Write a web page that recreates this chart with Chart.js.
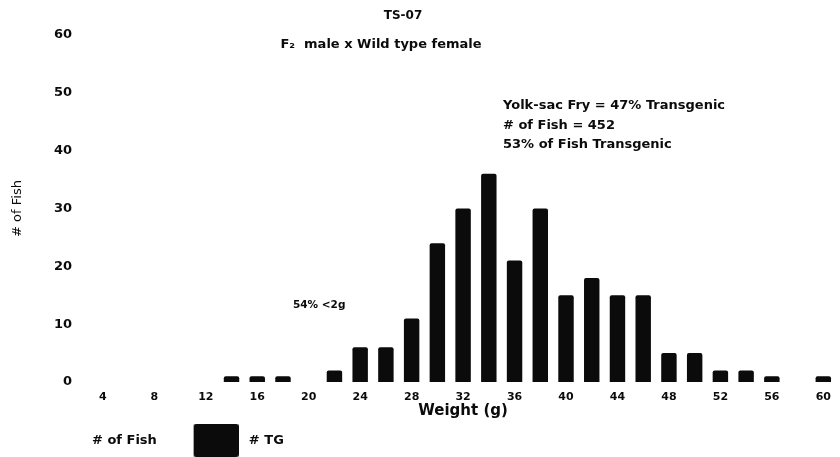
<!DOCTYPE html>
<html>
<head>
<meta charset="utf-8">
<style>
  html, body { margin: 0; padding: 0; background: #fff; }
  #wrap { width: 840px; height: 457px; }
</style>
<script src="https://cdn.jsdelivr.net/npm/chart.js@4/dist/chart.umd.min.js"></script>
</head>
<body>
<div id="wrap"><canvas id="c" width="840" height="457"></canvas></div>
<script>
// Weight classes (g), one bar slot each
const weights = [4, 6, 8, 10, 12, 14, 16, 18, 20, 22, 24, 26, 28, 30, 32, 34, 36, 38, 40, 42, 44, 46, 48, 50, 52, 54, 56, 58, 60];
// Transgenic fish counted in each weight class
const tgCounts = [0, 0, 0, 0, 0, 1, 1, 1, 0, 2, 6, 6, 11, 24, 30, 36, 21, 30, 15, 18, 15, 15, 5, 5, 2, 2, 1, 0, 1];
// All fish per class (series shown only in the legend)
const fishCounts = [];
// Every other weight class gets a tick label
const weightTickLabels = ['4', '8', '12', '16', '20', '24', '28', '32', '36', '40', '44', '48', '52', '56', '60'];
const yTicks = [0, 10, 20, 30, 40, 50, 60];

const titleText = 'TS-07';
const subtitleText = 'F\u2082  male x Wild type female';
const summaryLines = ['Yolk-sac Fry = 47% Transgenic', '# of Fish = 452', '53% of Fish Transgenic'];
const smallNote = '54% <2g';

const SANS = '"DejaVu Sans", "Liberation Sans", sans-serif';
const INK = '#0b0b0b';

// Legend swatches as images so the box size and offset can be set freely
function swatch(fill) {
  const cv = document.createElement('canvas');
  cv.width = 68; cv.height = 34;
  const g = cv.getContext('2d');
  if (fill) {
    g.fillStyle = fill;
    g.beginPath();
    g.roundRect(23, 0, 45, 34, 3);
    g.fill();
  }
  return cv;
}
const swatches = [swatch(null), swatch(INK)];

const textPlugin = {
  id: 'chartTexts',
  afterDraw(chart) {
    const ctx = chart.ctx;
    ctx.save();
    ctx.fillStyle = INK;
    ctx.textBaseline = 'middle';
    ctx.textAlign = 'center';
    ctx.font = 'bold 12px ' + SANS;
    ctx.fillText(titleText, 403, 16);
    ctx.font = 'bold 13px ' + SANS;
    ctx.fillText(subtitleText, 381, 45);
    ctx.textAlign = 'left';
    ctx.font = 'bold 13px ' + SANS;
    summaryLines.forEach((line, i) => ctx.fillText(line, 503, 106 + i * 19.5));
    ctx.font = 'bold 10.5px ' + SANS;
    ctx.fillText(smallNote, 293, 305);
    ctx.restore();
  }
};

new Chart(document.getElementById('c'), {
  type: 'bar',
  data: {
    labels: weights,
    datasets: [
      { label: '# of Fish', data: fishCounts, backgroundColor: '#ffffff', grouped: false },
      { label: '# TG', data: tgCounts, backgroundColor: INK, borderRadius: 2, grouped: false,
        barPercentage: 0.6, categoryPercentage: 1.0 }
    ]
  },
  options: {
    responsive: false,
    animation: false,
    layout: { padding: { top: 35, right: 2, left: 0, bottom: 0 } },
    plugins: {
      tooltip: { enabled: false },
      title: { display: false },
      legend: {
        position: 'bottom',
        align: 'start',
        labels: {
          usePointStyle: true,
          pointStyleWidth: 75.5,
          padding: 10,
          color: INK,
          font: { family: SANS, size: 13, weight: 'bold' },
          generateLabels(chart) {
            return chart.data.datasets.map((ds, i) => ({
              text: ds.label,
              pointStyle: swatches[i],
              fillStyle: 'rgba(0,0,0,0)',
              strokeStyle: 'rgba(0,0,0,0)',
              lineWidth: 0,
              hidden: false,
              datasetIndex: i,
              fontColor: INK
            }));
          }
        }
      }
    },
    scales: {
      x: {
        grid: { display: false, drawTicks: false },
        border: { display: false },
        afterFit(s) { s.height = 42; },
        ticks: {
          autoSkip: false,
          maxRotation: 0,
          padding: 9,
          color: INK,
          font: { family: SANS, size: 11, weight: 'bold' },
          callback(value, index) {
            return index % 2 === 0 ? weightTickLabels[index / 2] : '';
          }
        },
        title: {
          display: true,
          text: 'Weight (g)',
          color: INK,
          padding: { top: 0, bottom: 4 },
          font: { family: SANS, size: 15, weight: 'bold' }
        }
      },
      y: {
        min: 0,
        max: 60,
        grid: { display: false, drawTicks: false },
        border: { display: false },
        afterFit(s) { s.width = 90; },
        afterBuildTicks(s) { s.ticks = yTicks.map(v => ({ value: v })); },
        ticks: {
          padding: 18,
          color: INK,
          font: { family: SANS, size: 13, weight: 'bold' }
        },
        title: {
          display: true,
          text: '# of Fish',
          color: INK,
          padding: { top: 10, bottom: 0 },
          font: { family: SANS, size: 13 }
        }
      }
    }
  },
  plugins: [textPlugin]
});
</script>
</body>
</html>
